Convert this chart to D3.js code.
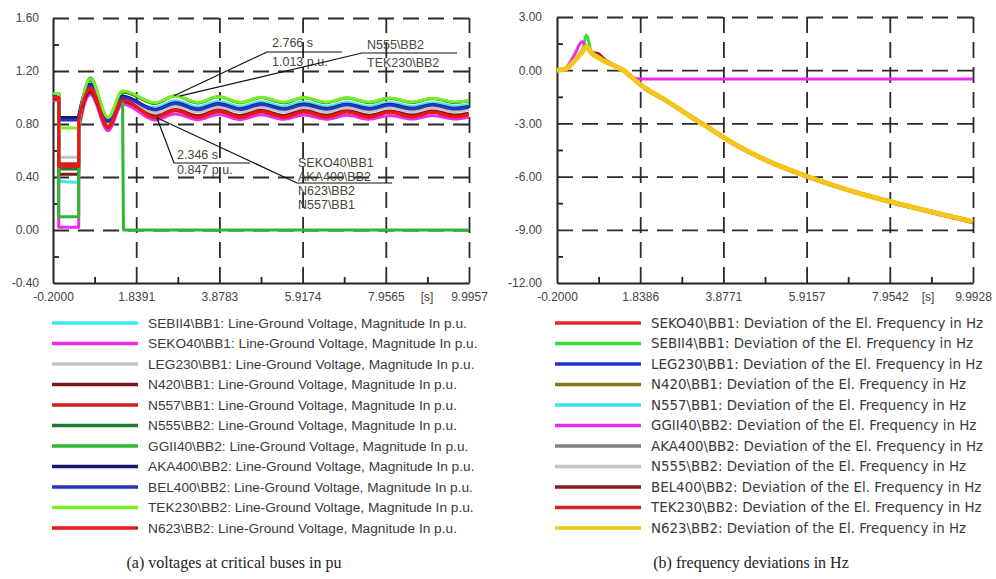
<!DOCTYPE html>
<html>
<head>
<meta charset="utf-8">
<script src="https://cdn.jsdelivr.net/npm/d3@7"></script>
<style>
  body { margin: 0; background: #fff; }
</style>
</head>
<body>
<svg id="chart" width="996" height="579" font-family='"Liberation Sans", Arial, sans-serif'></svg>
<script>
// (a) voltages at critical buses, p.u.
const voltTime = [-0.2, -0.06, -0.06, 0.43, 0.43, 0.72, 1.15, 1.5, 1.53, 2.3, 2.8, 3.35, 3.85, 4.4, 4.9, 5.45, 5.95, 6.5, 7.0, 7.55, 8.05, 8.6, 9.1, 9.65, 9.99];
const voltSEBII4 = [1.00, 1.00, 0.37, 0.36, 0.80, 1.10, 0.82, 1.02, 1.01, 0.925, 0.975, 0.930, 0.970, 0.930, 0.968, 0.932, 0.966, 0.932, 0.964, 0.933, 0.962, 0.933, 0.960, 0.934, 0.948];
const voltSEKO40 = [0.98, 0.98, 0.02, 0.02, 0.74, 1.02, 0.75, 0.95, 0.95, 0.830, 0.875, 0.832, 0.872, 0.834, 0.870, 0.835, 0.868, 0.836, 0.866, 0.836, 0.865, 0.837, 0.864, 0.837, 0.850];
const voltLEG230 = [1.00, 1.00, 0.55, 0.55, 0.80, 1.06, 0.80, 0.99, 0.99, 0.885, 0.935, 0.890, 0.930, 0.890, 0.928, 0.892, 0.926, 0.892, 0.925, 0.893, 0.924, 0.893, 0.922, 0.894, 0.910];
const voltN420 = [0.99, 0.99, 0.42, 0.42, 0.78, 1.04, 0.78, 0.97, 0.97, 0.860, 0.910, 0.862, 0.905, 0.864, 0.903, 0.865, 0.901, 0.866, 0.900, 0.866, 0.899, 0.867, 0.898, 0.867, 0.882];
const voltN557 = [1.00, 1.00, 0.50, 0.50, 0.80, 1.06, 0.77, 0.98, 0.98, 0.847, 0.900, 0.850, 0.895, 0.851, 0.893, 0.852, 0.891, 0.853, 0.890, 0.853, 0.889, 0.854, 0.888, 0.854, 0.870];
const voltN555 = [1.03, 1.03, 0.46, 0.46, 0.80, 1.13, 0.84, 1.04, 1.04, 0.955, 1.013, 0.958, 1.005, 0.960, 1.000, 0.960, 0.998, 0.961, 0.996, 0.961, 0.994, 0.962, 0.992, 0.962, 0.975];
const voltGGII40 = [1.03, 1.03, 0.10, 0.10, 0.78, 1.15, 0.83, 1.04, 0.00, 0.00, 0.00, 0.00, 0.00, 0.00, 0.00, 0.00, 0.00, 0.00, 0.00, 0.00, 0.00, 0.00, 0.00, 0.00, 0.00];
const voltAKA400 = [1.02, 1.02, 0.85, 0.85, 0.86, 1.10, 0.82, 1.01, 1.01, 0.910, 0.960, 0.913, 0.955, 0.915, 0.953, 0.916, 0.951, 0.917, 0.950, 0.917, 0.949, 0.918, 0.948, 0.918, 0.932];
const voltBEL400 = [1.02, 1.02, 0.83, 0.83, 0.85, 1.09, 0.82, 1.00, 1.00, 0.905, 0.955, 0.908, 0.950, 0.910, 0.948, 0.911, 0.946, 0.912, 0.945, 0.912, 0.944, 0.913, 0.943, 0.913, 0.927];
const voltTEK230 = [1.03, 1.03, 0.77, 0.77, 0.79, 1.14, 0.85, 1.05, 1.05, 0.960, 1.013, 0.963, 1.006, 0.964, 1.002, 0.965, 1.000, 0.965, 0.998, 0.966, 0.996, 0.966, 0.995, 0.966, 0.978];
const voltN623 = [1.00, 1.00, 0.48, 0.48, 0.82, 1.07, 0.78, 0.98, 0.98, 0.847, 0.905, 0.850, 0.900, 0.852, 0.897, 0.852, 0.895, 0.853, 0.893, 0.853, 0.892, 0.854, 0.890, 0.854, 0.872];

const voltXTicks = [-0.2, 1.8391, 3.8783, 5.9174, 7.9565, 9.9957];
const voltXLabels = ['-0.2000', '1.8391', '3.8783', '5.9174', '7.9565', '9.9957'];
const voltYTicks = [-0.4, 0, 0.4, 0.8, 1.2, 1.6];
const voltYLabels = ['-0.40', '0.00', '0.40', '0.80', '1.20', '1.60'];

// (b) frequency deviations, Hz
const freqTime = [-0.2, 0.0, 0.2, 0.42, 0.52, 0.65, 0.8, 1.0, 1.2, 1.42, 1.62, 1.84, 2.5, 3.0, 3.5, 4.1, 5.0, 5.92, 7.0, 7.95, 9.0, 9.99];
const freqSEKO40 = [0, 0.05, 0.44, 1.02, 1.30, 1.00, 0.90, 0.55, 0.28, 0.02, -0.36, -0.78, -1.73, -2.48, -3.20, -4.08, -5.12, -5.96, -6.78, -7.38, -7.98, -8.52];
const freqSEBII4 = [0, 0.05, 0.43, 1.10, 1.98, 0.98, 0.74, 0.47, 0.26, 0.01, -0.37, -0.79, -1.74, -2.49, -3.21, -4.09, -5.13, -5.97, -6.79, -7.39, -7.99, -8.53];
const freqLEG230 = [0, 0.06, 0.45, 1.04, 1.30, 0.96, 0.73, 0.46, 0.25, 0.00, -0.38, -0.80, -1.75, -2.50, -3.22, -4.10, -5.15, -5.98, -6.80, -7.40, -8.00, -8.54];
const freqN420 = [0, 0.06, 0.45, 1.04, 1.31, 0.95, 0.72, 0.46, 0.25, 0.00, -0.38, -0.81, -1.76, -2.51, -3.23, -4.11, -5.16, -5.99, -6.81, -7.41, -8.01, -8.55];
const freqN557 = [0, 0.06, 0.46, 1.05, 1.31, 0.95, 0.72, 0.46, 0.25, 0.00, -0.38, -0.80, -1.75, -2.50, -3.22, -4.10, -5.15, -5.98, -6.80, -7.40, -8.00, -8.54];
const freqGGII40 = [0, 0.10, 0.75, 1.60, 1.30, 0.98, 0.74, 0.47, 0.24, -0.02, -0.38, -0.50, -0.50, -0.50, -0.50, -0.50, -0.50, -0.50, -0.50, -0.50, -0.50, -0.50];
const freqAKA400 = [0, 0.06, 0.45, 1.04, 1.30, 0.95, 0.72, 0.46, 0.25, 0.00, -0.39, -0.81, -1.76, -2.51, -3.23, -4.11, -5.16, -5.99, -6.81, -7.41, -8.01, -8.55];
const freqN555 = [0, 0.06, 0.45, 1.04, 1.31, 0.96, 0.72, 0.46, 0.25, 0.00, -0.38, -0.80, -1.75, -2.50, -3.22, -4.10, -5.15, -5.98, -6.80, -7.40, -8.00, -8.54];
const freqBEL400 = [0, 0.05, 0.44, 1.03, 1.28, 1.00, 0.95, 0.50, 0.27, 0.03, -0.35, -0.84, -1.79, -2.55, -3.26, -4.15, -5.20, -6.03, -6.85, -7.45, -8.05, -8.59];
const freqTEK230 = [0, 0.05, 0.44, 1.03, 1.29, 1.02, 0.85, 0.53, 0.29, 0.04, -0.34, -0.77, -1.72, -2.46, -3.18, -4.06, -5.11, -5.94, -6.76, -7.36, -7.96, -8.50];
const freqN623 = [0, 0.06, 0.45, 1.05, 1.32, 0.95, 0.72, 0.46, 0.25, 0.00, -0.38, -0.80, -1.75, -2.50, -3.22, -4.10, -5.15, -5.98, -6.80, -7.40, -8.00, -8.54];

const freqXTicks = [-0.2, 1.8386, 3.8771, 5.9157, 7.9542, 9.9928];
const freqXLabels = ['-0.2000', '1.8386', '3.8771', '5.9157', '7.9542', '9.9928'];
const freqYTicks = [-12, -9, -6, -3, 0, 3];
const freqYLabels = ['-12.00', '-9.00', '-6.00', '-3.00', '0.00', '3.00'];

// cursor annotations in panel (a)
const annoTime = [2.766, 2.9, 2.346, 2.346];
const annoValue = [1.013, 1.01, 0.847, 0.847];
const annoText = [
  ['2.766 s', '1.013 p.u.'],
  ['N555\\BB2', 'TEK230\\BB2'],
  ['2.346 s', '0.847 p.u.'],
  ['SEKO40\\BB1', 'AKA400\\BB2', 'N623\\BB2', 'N557\\BB1']
];

const voltSeries = [
  { name: 'SEBII4\\BB1', values: voltSEBII4, color: '#3ee6ef' },
  { name: 'SEKO40\\BB1', values: voltSEKO40, color: '#ee2cee' },
  { name: 'LEG230\\BB1', values: voltLEG230, color: '#c4c4c4' },
  { name: 'N420\\BB1', values: voltN420, color: '#7d1818' },
  { name: 'N557\\BB1', values: voltN557, color: '#cc2020' },
  { name: 'N555\\BB2', values: voltN555, color: '#1f7a2c' },
  { name: 'GGII40\\BB2', values: voltGGII40, color: '#2fb82f' },
  { name: 'AKA400\\BB2', values: voltAKA400, color: '#16166e' },
  { name: 'BEL400\\BB2', values: voltBEL400, color: '#2636c0' },
  { name: 'TEK230\\BB2', values: voltTEK230, color: '#78ee24' },
  { name: 'N623\\BB2', values: voltN623, color: '#ee1515' }
];
const freqSeries = [
  { name: 'SEKO40\\BB1', values: freqSEKO40, color: '#e8232b' },
  { name: 'SEBII4\\BB1', values: freqSEBII4, color: '#36dd36' },
  { name: 'LEG230\\BB1', values: freqLEG230, color: '#2233cc' },
  { name: 'N420\\BB1', values: freqN420, color: '#807a1c' },
  { name: 'N557\\BB1', values: freqN557, color: '#38e2ee' },
  { name: 'GGII40\\BB2', values: freqGGII40, color: '#ee28ee' },
  { name: 'AKA400\\BB2', values: freqAKA400, color: '#808080' },
  { name: 'N555\\BB2', values: freqN555, color: '#c4c4c4' },
  { name: 'BEL400\\BB2', values: freqBEL400, color: '#8b1a1a' },
  { name: 'TEK230\\BB2', values: freqTEK230, color: '#cc2424' },
  { name: 'N623\\BB2', values: freqN623, color: '#f5c518', width: 5 }
];

const svg = d3.select('#chart');

function drawPanel(p) {
  const x = d3.scaleLinear().domain([p.xTicks[0], p.xTicks[p.xTicks.length - 1]]).range([p.left, p.right]);
  const y = d3.scaleLinear().domain([p.yTicks[0], p.yTicks[p.yTicks.length - 1]]).range([p.bottom, p.top]);
  const w = p.right - p.left;
  const h = p.bottom - p.top;
  const g = svg.append('g');

  // dashed grid
  g.append('g')
    .attr('transform', `translate(0,${p.bottom})`)
    .call(d3.axisBottom(x).tickValues(p.xTicks.slice(1)).tickSize(-h).tickFormat(''))
    .call(s => s.select('.domain').remove())
    .selectAll('line')
    .attr('stroke', '#2a2a2a').attr('stroke-width', 1.8).attr('stroke-dasharray', '16,9');
  g.append('g')
    .attr('transform', `translate(${p.left},0)`)
    .call(d3.axisLeft(y).tickValues(p.yTicks.slice(1)).tickSize(-w).tickFormat(''))
    .call(s => s.select('.domain').remove())
    .selectAll('line')
    .attr('stroke', '#2a2a2a').attr('stroke-width', 1.8).attr('stroke-dasharray', '16,9');

  // minor ticks
  const xMinor = d3.pairs(p.xTicks, (a, b) => (a + b) / 2);
  const yMinor = d3.pairs(p.yTicks, (a, b) => (a + b) / 2);
  g.append('g')
    .attr('transform', `translate(0,${p.bottom})`)
    .call(d3.axisBottom(x).tickValues(xMinor).tickSize(-6).tickFormat(''))
    .call(s => s.select('.domain').remove())
    .selectAll('line').attr('stroke', '#222').attr('stroke-width', 1.8);
  g.append('g')
    .attr('transform', `translate(${p.left},0)`)
    .call(d3.axisLeft(y).tickValues(yMinor).tickSize(-6).tickFormat(''))
    .call(s => s.select('.domain').remove())
    .selectAll('line').attr('stroke', '#222').attr('stroke-width', 1.8);

  // axes with labels
  const xAxis = g.append('g')
    .attr('transform', `translate(0,${p.bottom})`)
    .call(d3.axisBottom(x).tickValues(p.xTicks).tickFormat((d, i) => p.xLabels[i]).tickSize(0).tickSizeOuter(0).tickPadding(9));
  const yAxis = g.append('g')
    .attr('transform', `translate(${p.left},0)`)
    .call(d3.axisLeft(y).tickValues(p.yTicks).tickFormat((d, i) => p.yLabels[i]).tickSize(0).tickSizeOuter(0).tickPadding(p.yPad));
  [xAxis, yAxis].forEach(a => {
    a.attr('font-family', null).attr('font-size', null);
    a.select('.domain').attr('stroke', '#222').attr('stroke-width', 2);
    a.selectAll('text').attr('font-size', '12px').attr('fill', '#444');
  });
  g.append('text')
    .attr('x', p.unitX).attr('y', p.bottom + 17.5)
    .attr('text-anchor', 'middle').attr('font-size', '12px').attr('fill', '#444')
    .text('[s]');

  // curves
  const line = d3.line()
    .x(d => x(d[0]))
    .y(d => y(d[1]))
    .curve(d3.curveMonotoneX);
  p.series.forEach(s => {
    g.append('path')
      .datum(p.time.map((t, i) => [t, s.values[i]]))
      .attr('d', line)
      .attr('fill', 'none')
      .attr('stroke', s.color)
      .attr('stroke-width', s.width || p.lineWidth)
      .attr('stroke-linejoin', 'round');
  });

  // legend
  const leg = g.append('g');
  p.series.forEach((s, i) => {
    const ly = p.legendTop + i * 20.5;
    leg.append('line')
      .attr('x1', p.legendX).attr('x2', p.legendX + 86)
      .attr('y1', ly).attr('y2', ly)
      .attr('stroke', s.color).attr('stroke-width', 3.5);
    leg.append('text')
      .attr('x', p.legendX + 96).attr('y', ly)
      .attr('dy', '0.35em')
      .attr('font-size', p.legendFont.size)
      .attr('font-family', p.legendFont.family)
      .attr('fill', '#3a3a3a')
      .text(s.name + p.suffix);
  });

  g.append('text')
    .attr('x', p.captionX).attr('y', 568)
    .attr('text-anchor', 'middle')
    .attr('font-family', '"Liberation Serif", "Times New Roman", serif')
    .attr('font-size', '16px').attr('fill', '#222')
    .text(p.caption);

  return { g, x, y };
}

const panelA = drawPanel({
  left: 53, right: 469, top: 18, bottom: 283, yPad: 14, unitX: 427,
  xTicks: voltXTicks, xLabels: voltXLabels, yTicks: voltYTicks, yLabels: voltYLabels,
  time: voltTime, series: voltSeries, lineWidth: 3,
  legendX: 52, legendTop: 323, suffix: ': Line-Ground Voltage, Magnitude In p.u.',
  legendFont: { size: '13.7px', family: '"Liberation Sans", Arial, sans-serif' },
  caption: '(a) voltages at critical buses in pu', captionX: 234
});

drawPanel({
  left: 557, right: 973, top: 17, bottom: 283, yPad: 15, unitX: 928,
  xTicks: freqXTicks, xLabels: freqXLabels, yTicks: freqYTicks, yLabels: freqYLabels,
  time: freqTime, series: freqSeries, lineWidth: 3,
  legendX: 555, legendTop: 323, suffix: ': Deviation of the El. Frequency in Hz',
  legendFont: { size: '13.4px', family: '"DejaVu Sans", Verdana, sans-serif' },
  caption: '(b) frequency deviations in Hz', captionX: 751
});

// annotation boxes: anchor point of the label, underline length, text offsets
const annoLayout = [
  { ax: 267, ay: 52, len: 75, tx: 272, ty: [47, 66] },
  { ax: 362, ay: 53, len: 95, tx: 367, ty: [49, 67] },
  { ax: 174, ay: 163, len: 76, tx: 177, ty: [159, 174] },
  { ax: 297, ay: 183, len: 95, tx: 298, ty: [167, 181, 195, 209] }
];
const ann = panelA.g.append('g');
annoLayout.forEach((a, i) => {
  const px = panelA.x(annoTime[i]);
  const py = panelA.y(annoValue[i]);
  ann.append('path')
    .attr('d', `M${px},${py}L${a.ax},${a.ay}H${a.ax + a.len}`)
    .attr('fill', 'none').attr('stroke', '#111').attr('stroke-width', 1.2);
  annoText[i].forEach((t, j) => {
    ann.append('text')
      .attr('x', a.tx).attr('y', a.ty[j])
      .attr('font-size', '12.5px').attr('fill', '#4a4536')
      .text(t);
  });
});
</script>
</body>
</html>
